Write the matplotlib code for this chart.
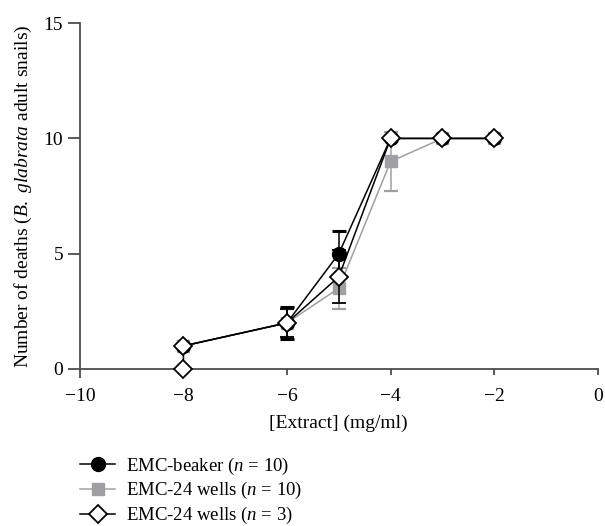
import matplotlib
matplotlib.use("Agg")
import matplotlib.pyplot as plt
from matplotlib.lines import Line2D

plt.rcParams['font.family'] = ['Liberation Serif', 'DejaVu Serif']
plt.rcParams['mathtext.fontset'] = 'custom'
plt.rcParams['mathtext.rm'] = 'Liberation Serif'
plt.rcParams['mathtext.it'] = 'Liberation Serif:italic'

# data
x_beaker = [-8, -6, -5, -4, -3, -2]
y_beaker = [1, 2, 5, 10, 10, 10]
e_beaker = [0, 0.7, 1.0, 0, 0, 0]

x_wells10 = [-8, -6, -5, -4, -3, -2]
y_wells10 = [1, 2, 3.5, 9, 10, 10]
e_wells10 = [0, 0.6, 0.9, 1.3, 0, 0]

x_wells3 = [-8, -8, -6, -5, -4, -3, -2]
y_wells3 = [0, 1, 2, 4, 10, 10, 10]
e_wells3 = [0, 0, 0.6, 1.15, 0, 0, 0]

labels = ['EMC-beaker ($n$ = 10)', 'EMC-24 wells ($n$ = 10)', 'EMC-24 wells ($n$ = 3)']
xticks = [-10, -8, -6, -4, -2, 0]
yticks = [0, 5, 10, 15]

gray = '#a0a0a4'
axc = '#4d4d4d'
fs = 14

fig = plt.figure(figsize=(6.05, 5.26), dpi=100)
ax = fig.add_axes([0.132, 0.2985, 0.856, 0.6575])

series = [
    ax.errorbar(x_wells10, y_wells10, yerr=e_wells10, color=gray, lw=1.1, marker='s', ms=9,
                mfc=gray, mec=gray, capsize=5, capthick=1.6, elinewidth=1.1, zorder=2),
    ax.errorbar(x_beaker, y_beaker, yerr=e_beaker, color='black', lw=1.1, marker='o', ms=10,
                mfc='black', mec='black', capsize=5, capthick=2.2, elinewidth=1.1, zorder=3),
    ax.errorbar(x_wells3, y_wells3, yerr=e_wells3, color='black', lw=1.1, marker='D', ms=9,
                mfc='white', mec='black', mew=1.3, capsize=5, capthick=2.2, elinewidth=1.1, zorder=4),
]
for s in series:
    for art in s.get_children():
        art.set_clip_on(False)

ax.set_xlim(-10, 0)
ax.set_ylim(0, 15)
ax.set_xticks(xticks)
ax.set_xticklabels(['\u2212' + str(abs(t)) if t < 0 else str(t) for t in xticks])
ax.set_yticks(yticks)
for s in ['top', 'right']:
    ax.spines[s].set_visible(False)
for s in ['left', 'bottom']:
    ax.spines[s].set_color(axc)
    ax.spines[s].set_linewidth(1.3)
ax.tick_params(axis='x', direction='out', length=4, width=1.3, color=axc, labelsize=fs, pad=10)
ax.tick_params(axis='y', direction='out', length=9, width=1.3, color=axc, labelsize=fs, pad=3)
# the y axis runs on a little below the x axis
ax.xaxis.get_major_ticks()[0].tick1line.set_markersize(6.5)

ax.set_xlabel('[Extract] (mg/ml)', fontsize=fs, labelpad=7)
ax.set_ylabel('Number of deaths ($\\it{B.\\ glabrata}$ adult snails)', fontsize=fs, labelpad=7)

handles = [
    Line2D([], [], color='black', lw=1.1, marker='o', ms=10, mfc='black', mec='black'),
    Line2D([], [], color=gray, lw=1.1, marker='s', ms=9, mfc=gray, mec=gray),
    Line2D([], [], color='black', lw=1.1, marker='D', ms=9, mfc='white', mec='black', mew=1.3),
]
fig.legend(handles, labels, loc='upper left', bbox_to_anchor=(0.117, 0.152), frameon=False,
           fontsize=13.5, handlelength=1.85, handletextpad=0.6, labelspacing=0.2, borderpad=0)

fig.savefig('out.png', dpi=100)
